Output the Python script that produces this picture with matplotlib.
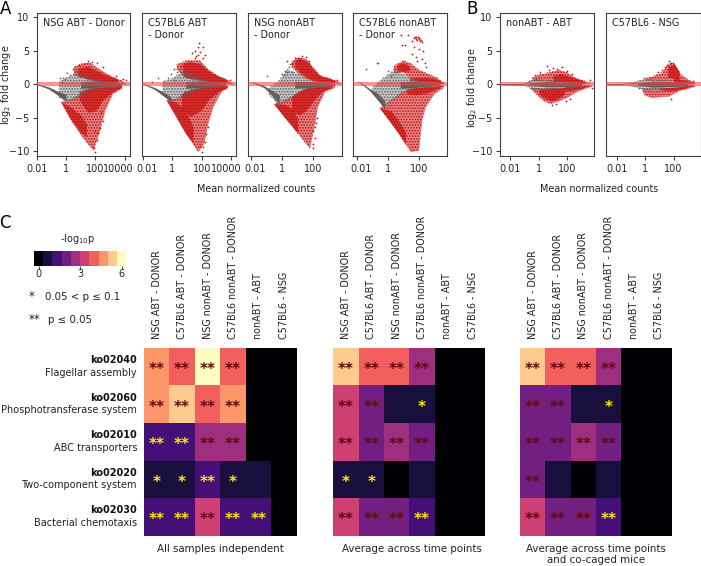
import matplotlib
matplotlib.use("Agg")
import matplotlib.pyplot as plt
from matplotlib.colors import BoundaryNorm
from matplotlib.transforms import ScaledTranslation

W, H = 701, 566
RED = "#c90a0a"
GREY = "#5f5f5f"
EDGE = "#404040"
plt.rcParams["hatch.linewidth"] = 0.8

# MA panels, everything in log10(mean count) vs log2 fold change
# up_* / low_* = outline of the sparse red cloud, dense*_ = outline of its packed parts
# grey_* = outline of the n.s. cloud, band_* = its packed middle, diag_* = n.s. low count arm
a1_up_x = [0.5, 1.0, 1.6, 2.4, 3.2, 3.8, 4.1]
a1_up_hi = [2.6, 3.1, 3.3, 2.1, 1.1, 0.6, 0.1]
a1_up_lo = [1.4, 1.1, 0.8, 0.4, 0.3, 0.2, 0.0]
a1_low_x = [-0.36, 0.5, 1.2, 1.86, 2.3, 2.66, 3.2, 3.8]
a1_low_hi = [-2.6, -2.0, -1.0, -0.5, -0.4, -0.3, -0.3, -0.2]
a1_low_lo = [-2.7, -6.0, -8.2, -9.9, -6.9, -3.9, -1.4, -0.6]
a1_dense1_x = [0.8, 1.5, 2.5, 3.5]
a1_dense1_hi = [2.4, 2.7, 1.6, 0.8]
a1_dense1_lo = [1.2, 0.7, 0.3, 0.2]
a1_dense2_x = [-0.3, 0.3, 1.0, 1.4]
a1_dense2_hi = [-2.7, -3.4, -4.6, -6.0]
a1_dense2_lo = [-2.8, -5.2, -7.2, -7.9]
a1_dense3_x = [0.9, 1.5, 2.0, 2.5, 3.2, 3.8]
a1_dense3_hi = [-1.0, -0.6, -0.5, -0.4, -0.3, -0.2]
a1_dense3_lo = [-2.4, -4.2, -4.0, -2.4, -1.1, -0.5]
a1_grey_x = [-0.5, 0.0, 0.7, 1.5, 2.5, 3.5, 4.0]
a1_grey_hi = [0.4, 1.0, 1.7, 1.0, 0.5, 0.3, 0.1]
a1_grey_lo = [-2.0, -2.5, -2.2, -1.0, -0.5, -0.3, -0.1]
a1_band_x = [1.0, 2.0, 3.0, 3.8]
a1_band_hi = [0.4, 0.5, 0.3, 0.1]
a1_band_lo = [-0.6, -0.5, -0.3, -0.1]
a1_diag_x = [-2.0, -1.2, -0.6, 0.0]
a1_diag_hi = [0.05, -0.4, -1.0, -1.5]
a1_diag_lo = [-0.05, -0.7, -1.6, -2.5]
a1_pts_x = [0.9, 1.2, 1.5, 1.8, 2.1, 2.5, 1.9, 2.0, 2.1, 2.2, 2.3, 2.5, 2.4, 2.0, 3.4, 3.9, 4.1]
a1_pts_y = [2.9, 3.0, 3.4, 3.3, 3.1, 2.5, -9.6, -10.1, -8.4, -7.3, -6.6, -5.5, -4.2, -7.0, 1.2, 0.8, 0.7]
a1_gpts_x = [-0.4, -0.1, 0.1, -0.3, 0.5, 0.7, 0.3, -0.2]
a1_gpts_y = [0.9, 0.8, 1.6, 0.3, 2.2, 1.9, 1.3, 1.0]

a2_up_x = [0.27, 0.94, 1.84, 2.4, 3.08, 3.64, 4.1]
a2_up_hi = [3.0, 3.6, 3.6, 2.3, 1.3, 0.8, 0.1]
a2_up_lo = [2.2, 0.9, 0.7, 0.4, 0.3, 0.2, 0.0]
a2_low_x = [-0.4, 0.4, 0.85, 1.73, 2.13, 2.4, 2.74, 3.3, 3.75]
a2_low_hi = [-2.3, -2.0, -1.0, -0.6, -0.4, -0.3, -0.3, -0.2, -0.2]
a2_low_lo = [-2.4, -5.4, -7.2, -10.1, -8.9, -5.9, -3.4, -1.1, -0.5]
a2_dense1_x = [0.7, 1.2, 1.9, 2.5, 3.2, 3.7]
a2_dense1_hi = [3.1, 3.4, 3.0, 1.9, 1.1, 0.7]
a2_dense1_lo = [1.2, 0.8, 0.6, 0.4, 0.3, 0.2]
a2_dense2_x = [-0.4, 0.2, 0.9, 1.4]
a2_dense2_hi = [-2.4, -2.6, -4.0, -6.4]
a2_dense2_lo = [-2.5, -4.8, -7.4, -8.8]
a2_dense3_x = [0.6, 1.2, 1.9, 2.5, 3.2, 3.7]
a2_dense3_hi = [-1.4, -0.8, -0.5, -0.3, -0.2, -0.2]
a2_dense3_lo = [-3.5, -4.8, -4.0, -2.2, -1.0, -0.5]
a2_grey_x = [-0.7, 0.0, 0.7, 1.5, 2.5, 3.3, 3.8]
a2_grey_hi = [0.3, 1.0, 2.0, 1.2, 0.5, 0.3, 0.1]
a2_grey_lo = [-1.2, -2.5, -2.0, -1.0, -0.5, -0.3, -0.1]
a2_band_x = [0.9, 2.0, 3.0, 3.6]
a2_band_hi = [0.4, 0.5, 0.3, 0.1]
a2_band_lo = [-0.6, -0.5, -0.3, -0.1]
a2_diag_x = [-2.0, -1.2, -0.6, -0.1]
a2_diag_hi = [0.1, -0.5, -1.2, -1.9]
a2_diag_lo = [0.0, -0.8, -1.8, -2.6]
a2_pts_x = [1.3, 1.5, 1.6, 1.7, 1.8, 1.9, 2.1, 2.2, 1.7, 2.1, 1.5, 0.55, 2.0, 1.9, 2.1, 2.2, 2.25, 2.4, 0.1, 3.9]
a2_pts_y = [4.6, 5.0, 4.2, 5.6, 6.1, 4.8, 5.6, 4.4, 4.4, 3.9, 3.9, 2.7, -10.2, -9.3, -9.4, -8.6, -7.5, -6.4, 2.2, 0.7]
a2_gpts_x = [-1.4, -1.0, -0.6, -0.3, 0.1, 0.3, 0.5, -0.1]
a2_gpts_y = [0.3, 0.9, 0.5, 1.0, 0.7, 1.8, 2.2, 1.5]

a3_up_x = [0.58, 1.0, 1.54, 1.98, 2.4, 3.16, 3.5, 3.7]
a3_up_hi = [3.4, 4.1, 3.8, 2.6, 1.4, 0.8, 0.5, 0.1]
a3_up_lo = [2.6, 1.6, 0.8, 0.5, 0.4, 0.3, 0.2, 0.0]
a3_low_x = [-0.54, 0.15, 0.58, 1.1, 1.76, 2.09, 2.26, 2.73, 3.38]
a3_low_hi = [-2.9, -2.3, -1.8, -1.0, -0.5, -0.4, -0.3, -0.3, -0.2]
a3_low_lo = [-3.0, -5.0, -6.2, -7.7, -9.6, -5.9, -3.4, -1.1, -0.5]
a3_dense1_x = [0.8, 1.1, 1.6, 2.0, 2.5, 3.1, 3.5]
a3_dense1_hi = [3.6, 3.9, 3.4, 2.2, 1.2, 0.9, 0.4]
a3_dense1_lo = [2.6, 1.8, 1.0, 0.5, 0.4, 0.3, 0.2]
a3_dense2_x = [-0.54, 0.15, 0.6, 1.0]
a3_dense2_hi = [-2.9, -3.0, -3.6, -5.2]
a3_dense2_lo = [-3.0, -5.0, -6.2, -7.4]
a3_dense3_x = [0.6, 1.1, 1.5, 2.0, 2.6, 3.2]
a3_dense3_hi = [-1.8, -1.0, -0.6, -0.4, -0.3, -0.2]
a3_dense3_lo = [-4.0, -4.6, -4.0, -2.5, -1.0, -0.5]
a3_grey_x = [-0.9, -0.3, 0.3, 1.0, 1.8, 2.6, 3.4]
a3_grey_hi = [-0.5, 0.4, 2.3, 1.6, 0.6, 0.4, 0.1]
a3_grey_lo = [-1.5, -3.0, -2.6, -1.2, -0.6, -0.4, -0.1]
a3_band_x = [0.8, 1.8, 2.6, 3.4]
a3_band_hi = [0.4, 0.4, 0.3, 0.1]
a3_band_lo = [-0.6, -0.5, -0.3, -0.1]
a3_diag_x = [-2.0, -1.2, -0.7, -0.2]
a3_diag_hi = [0.4, -0.2, -0.9, -1.6]
a3_diag_lo = [0.3, -0.5, -1.6, -3.0]
a3_pts_x = [0.3, 0.6, 0.8, 0.6, 1.3, 1.5, 1.7, 1.95, 2.0, 2.1, 2.0, 2.1, 2.2, 2.25, 3.5]
a3_pts_y = [3.5, 3.0, 3.9, 3.1, 4.2, 4.0, 3.4, -9.6, -8.9, -8.0, -7.0, -6.4, -5.8, -5.0, 0.7]
a3_gpts_x = [-1.0, 0.0, 0.1, 0.2, 0.3, 0.4, 0.5, 0.6]
a3_gpts_y = [1.2, 1.5, 1.3, 2.0, 1.8, 2.6, 3.0, 1.8]

a4_up_x = [0.37, 1.0, 1.46, 2.0, 2.6, 3.2, 3.6]
a4_up_hi = [2.8, 3.6, 3.2, 2.2, 1.6, 1.0, 0.2]
a4_up_lo = [1.7, 1.8, 0.9, 0.5, 0.4, 0.3, 0.0]
a4_low_x = [-0.53, 0.37, 1.0, 1.46, 2.0, 2.2, 2.43, 3.0, 3.6]
a4_low_hi = [-3.5, -2.0, -1.0, -0.7, -0.5, -0.4, -0.3, -0.3, -0.2]
a4_low_lo = [-3.6, -6.3, -8.4, -10.1, -9.9, -5.4, -3.4, -1.4, -0.5]
a4_dense1_x = [0.6, 1.0, 1.4]
a4_dense1_hi = [2.9, 3.2, 2.7]
a4_dense1_lo = [2.0, 1.9, 2.0]
a4_dense2_x = [-0.5, 0.2, 0.7, 1.15]
a4_dense2_hi = [-3.5, -4.0, -5.4, -7.2]
a4_dense2_lo = [-3.6, -5.8, -7.4, -9.0]
a4_dense3_x = [1.4, 1.9, 2.5, 3.1, 3.6]
a4_dense3_hi = [1.0, 1.0, 1.0, 0.8, 0.3]
a4_dense3_lo = [0.5, 0.4, 0.3, 0.2, 0.1]
a4_dense4_x = [1.2, 1.8, 2.4, 3.0, 3.5]
a4_dense4_hi = [-0.7, -0.5, -0.4, -0.3, -0.1]
a4_dense4_lo = [-1.4, -1.6, -1.4, -0.9, -0.3]
a4_grey_x = [-1.0, -0.3, 0.3, 1.0, 1.8, 2.6, 3.4]
a4_grey_hi = [-0.4, 1.0, 2.0, 1.6, 0.6, 0.4, 0.1]
a4_grey_lo = [-1.4, -3.3, -2.4, -1.2, -0.6, -0.4, -0.1]
a4_band_x = [0.8, 1.8, 2.6, 3.4]
a4_band_hi = [0.4, 0.4, 0.3, 0.1]
a4_band_lo = [-0.6, -0.5, -0.3, -0.1]
a4_diag_x = [-1.9, -1.2, -0.7, -0.2]
a4_diag_hi = [0.5, -0.6, -1.3, -2.4]
a4_diag_lo = [0.4, -0.9, -2.2, -3.7]
a4_pts_x = [1.6, 1.7, 1.75, 1.8, 1.85, 1.9, 1.95, 2.0, 2.05, 2.1, 2.15, 2.2, 1.7, 2.0, 1.3, 1.1, 1.55, 2.3, 1.8, 2.2, 1.9, 2.4, 2.5, 0.85, 0.9]
a4_pts_y = [6.4, 6.9, 7.1, 6.8, 7.0, 6.6, 7.0, 6.7, 6.9, 6.5, 6.6, 6.3, 5.5, 5.2, 7.4, 5.9, 4.5, 5.0, 4.0, 3.8, 3.5, 3.2, 2.6, 7.3, 5.8]
a4_gpts_x = [-1.4, -0.7, -0.6, 0.0, 0.2, 0.4, 0.6]
a4_gpts_y = [2.2, 3.2, 3.1, 1.9, 1.2, 2.3, 1.8]

b1_up_x = [-0.5, 0.0, 0.45, 1.03, 1.39, 1.97, 2.56, 3.15, 3.6]
b1_up_hi = [1.0, 1.5, 1.7, 2.0, 2.2, 1.8, 1.0, 0.6, 0.2]
b1_up_lo = [0.5, 0.5, 0.5, 0.4, 0.4, 0.3, 0.3, 0.2, 0.1]
b1_low_x = [-0.6, -0.14, 0.33, 0.8, 1.39, 1.97, 2.56, 3.15, 3.7]
b1_low_hi = [-0.4, -0.5, -0.6, -0.5, -0.5, -0.4, -0.3, -0.2, -0.1]
b1_low_lo = [-0.6, -1.6, -2.5, -2.9, -2.5, -2.0, -1.2, -0.7, -0.3]
b1_dense1_x = [1.0, 1.5, 2.1, 2.7, 3.2]
b1_dense1_hi = [1.3, 1.6, 1.2, 0.8, 0.4]
b1_dense1_lo = [0.4, 0.4, 0.3, 0.2, 0.1]
b1_dense2_x = [0.0, 0.4, 0.9, 1.4, 1.8]
b1_dense2_hi = [-0.8, -0.7, -0.6, -0.6, -0.5]
b1_dense2_lo = [-1.5, -2.1, -2.5, -2.1, -1.5]
b1_dense3_x = [1.8, 2.4, 3.0, 3.5]
b1_dense3_hi = [-0.3, -0.3, -0.2, -0.1]
b1_dense3_lo = [-1.0, -0.9, -0.6, -0.3]
b1_grey_x = [-1.0, -0.5, 0.0, 1.0, 2.0, 2.8, 3.3]
b1_grey_hi = [0.2, 0.7, 0.8, 0.6, 0.5, 0.3, 0.1]
b1_grey_lo = [-0.2, -0.8, -0.9, -0.7, -0.5, -0.3, -0.1]
b1_band_x = [-0.7, 0.5, 1.5, 2.5, 3.0]
b1_band_hi = [0.1, 0.4, 0.3, 0.2, 0.1]
b1_band_lo = [-0.1, -0.4, -0.4, -0.3, -0.1]
b1_diag_x = [-2.7, -1.0]
b1_diag_hi = [0.08, 0.12]
b1_diag_lo = [-0.08, -0.12]
b1_pts_x = [0.55, -0.3, 0.1, 0.75, 1.0, 1.3, 1.6, 2.0, 2.3, 3.6, 3.75, 0.9, 1.2, 1.9, 2.2]
b1_pts_y = [2.7, 1.4, 1.8, 2.1, 2.4, 2.3, 2.5, 2.0, 1.5, 0.7, -0.6, -3.1, -3.0, -2.5, -2.2]
b1_gpts_x = [-0.7, -0.4, -0.2]
b1_gpts_y = [0.5, -0.7, 0.8]

b2_up_x = [0.0, 0.5, 1.18, 1.7, 2.1, 2.5, 3.06, 3.5]
b2_up_hi = [0.9, 1.2, 1.8, 3.2, 3.0, 1.5, 0.7, 0.2]
b2_up_lo = [0.6, 0.6, 0.5, 0.5, 0.4, 0.3, 0.2, 0.1]
b2_low_x = [-0.2, 0.0, 0.47, 0.94, 1.65, 2.35, 3.06, 3.5]
b2_low_hi = [-0.5, -0.6, -0.6, -0.6, -0.5, -0.4, -0.2, -0.1]
b2_low_lo = [-1.0, -1.7, -2.0, -1.9, -1.8, -1.0, -0.6, -0.3]
b2_dense1_x = [1.6, 1.8, 2.1, 2.4]
b2_dense1_hi = [2.2, 2.9, 2.8, 1.7]
b2_dense1_lo = [1.0, 1.0, 0.8, 0.6]
b2_dense2_x = [2.0, 2.5, 3.0, 3.5]
b2_dense2_hi = [0.8, 0.7, 0.5, 0.2]
b2_dense2_lo = [0.3, 0.2, 0.2, 0.1]
b2_dense3_x = [1.0, 1.6, 2.2, 2.8, 3.4]
b2_dense3_hi = [-0.5, -0.5, -0.4, -0.2, -0.1]
b2_dense3_lo = [-0.8, -1.0, -0.9, -0.6, -0.2]
b2_grey_x = [-1.5, -0.6, 0.0, 1.0, 2.0, 2.8, 3.3]
b2_grey_hi = [0.1, 0.5, 0.9, 0.7, 0.5, 0.3, 0.1]
b2_grey_lo = [-0.1, -0.5, -0.9, -0.7, -0.5, -0.3, -0.1]
b2_band_x = [-0.5, 0.5, 1.5, 2.5, 3.0]
b2_band_hi = [0.15, 0.45, 0.4, 0.2, 0.1]
b2_band_lo = [-0.15, -0.45, -0.4, -0.3, -0.1]
b2_diag_x = [-2.7, -1.5]
b2_diag_hi = [0.08, 0.1]
b2_diag_lo = [-0.08, -0.1]
b2_pts_x = [1.2, 1.4, 1.55, 1.65, 1.7, 1.85, 1.95, 2.05, 2.2, 2.35, 0.9, 3.4, 1.85]
b2_pts_y = [2.1, 2.6, 2.9, 3.5, 2.6, 3.2, 3.1, 2.9, 2.4, 1.9, 1.8, 0.5, -2.2]
b2_gpts_x = [-0.4, -0.1, 0.2]
b2_gpts_y = [-0.6, 1.0, -1.0]

a_panels = ["NSG ABT - Donor", "C57BL6 ABT\n- Donor", "NSG nonABT\n- Donor", "C57BL6 nonABT\n- Donor"]
b_panels = ["nonABT - ABT", "C57BL6 - NSG"]
x_ticks_long = [-2, 0, 2, 4]
x_ticks_short = [-2, 0, 2]
x_tick_labels = ["0.01", "1", "100", "10000"]
y_ticks = [-10, -5, 0, 5, 10]

# heatmap part: -log10 p per pathway (rows) and contrast (columns)
pathways = ["ko02040", "ko02060", "ko02010", "ko02020", "ko02030"]
pathway_names = ["Flagellar assembly", "Phosphotransferase system", "ABC transporters",
                 "Two-component system", "Bacterial chemotaxis"]
contrasts = ["NSG ABT - DONOR", "C57BL6 ABT - DONOR", "NSG nonABT - DONOR",
             "C57BL6 nonABT - DONOR", "nonABT - ABT", "C57BL6 - NSG"]
heat_all = [[4.67, 4.0, 6.0, 4.0, 0, 0],
            [4.67, 5.33, 4.0, 4.67, 0, 0],
            [1.33, 1.33, 2.67, 2.67, 0, 0],
            [0.67, 0.67, 1.33, 0.67, 0.67, 0],
            [1.33, 1.33, 3.33, 1.33, 1.33, 0]]
heat_avg = [[5.33, 4.0, 4.0, 2.67, 0, 0],
            [3.33, 2.0, 0.67, 0.67, 0, 0],
            [3.33, 2.0, 2.67, 2.0, 0, 0],
            [0.67, 0.67, 0, 0.67, 0, 0],
            [3.33, 2.0, 2.0, 1.33, 0, 0]]
heat_cocaged = [[5.33, 4.0, 4.0, 2.67, 0, 0],
                [2.0, 2.0, 0.67, 0.67, 0, 0],
                [2.0, 2.0, 2.67, 2.0, 0, 0],
                [2.0, 0.67, 0, 0.67, 0, 0],
                [3.33, 2.0, 2.0, 1.33, 0, 0]]
stars_all = [["**", "**", "**", "**", "", ""],
             ["**", "**", "**", "**", "", ""],
             ["**", "**", "**", "**", "", ""],
             ["*", "*", "**", "*", "", ""],
             ["**", "**", "**", "**", "**", ""]]
stars_avg = [["**", "**", "**", "**", "", ""],
             ["**", "**", "", "*", "", ""],
             ["**", "**", "**", "**", "", ""],
             ["*", "*", "", "", "", ""],
             ["**", "**", "**", "**", "", ""]]
stars_cocaged = [["**", "**", "**", "**", "", ""],
                 ["**", "**", "", "*", "", ""],
                 ["**", "**", "**", "**", "", ""],
                 ["**", "", "", "", "", ""],
                 ["**", "**", "**", "**", "", ""]]
scale_values = [0, 0.67, 1.33, 2.0, 2.67, 3.33, 4.0, 4.67, 5.33, 6.0]

fig = plt.figure(figsize=(W / 100, H / 100), dpi=100)


def box(x0, y0, x1, y1):
    # pixel box of the reference to figure fractions
    return [x0 / W, 1 - y1 / H, (x1 - x0) / W, (y1 - y0) / H]


def label(x, y, s, **kw):
    kw.setdefault("ha", "center")
    kw.setdefault("va", "center")
    kw.setdefault("fontsize", 6.9)
    kw.setdefault("color", "#222222")
    fig.text(x / W, 1 - y / H, s, **kw)


def sparse(ax, shape, col, z, wash):
    # the loose part of a point cloud: a pale wash and a dot hatch
    ax.fill_between(shape[0], shape[2], shape[1], color=col, alpha=wash, lw=0, zorder=z)
    ax.fill_between(shape[0], shape[2], shape[1], facecolor="none", edgecolor=col, hatch="......", lw=0, zorder=z)


def ma_panel(pos, xlim, ticks, title, up, low, dense, grey, band, diag, pts, gpts, shift=()):
    ax = fig.add_axes(box(*pos))
    sparse(ax, up, RED, 2, 0.5)
    sparse(ax, low, RED, 2, 0.5)
    for d in dense:
        ax.fill_between(d[0], d[2], d[1], color=RED, alpha=0.7, lw=0, zorder=2.5)
    sparse(ax, grey, GREY, 3, 0.35)
    ax.fill_between(band[0], band[2], band[1], color=GREY, lw=0, zorder=3.5)
    ax.fill_between(diag[0], diag[2], diag[1], color=GREY, lw=0, zorder=3.5)
    ax.scatter(pts[0], pts[1], s=1.6, color=RED, lw=0, zorder=4)
    ax.scatter(gpts[0], gpts[1], s=1.6, color=GREY, lw=0, zorder=4)
    ax.axhline(0, color="#f04040", alpha=0.55, lw=3.0, zorder=5)
    ax.set_xlim(xlim)
    ax.set_ylim(-10.75, 10.7)
    ax.set_xticks(ticks)
    ax.set_xticklabels(x_tick_labels[:len(ticks)])
    ax.set_yticks(y_ticks)
    ylab = pos[0] in (36.7, 500)
    ax.tick_params(labelsize=6.9, length=3, width=0.8, pad=2.5, color=EDGE, labelcolor="#222222", left=ylab, labelleft=ylab)
    # the outer tick labels sit off their ticks in the reference so they do not collide
    for t, dx in zip(ax.get_xticklabels(), shift):
        t.set_transform(t.get_transform() + ScaledTranslation(dx / 100, 0, fig.dpi_scale_trans))
    for s in ax.spines.values():
        s.set_color(EDGE)
        s.set_linewidth(0.8)
    ax.text(0.065, 0.965, title, transform=ax.transAxes, fontsize=6.9, va="top", ha="left",
            color="#222222", linespacing=1.3)
    return ax


ma_panel((36.7, 12.7, 130.3, 156), (-2, 4.39), x_ticks_long, a_panels[0],
         (a1_up_x, a1_up_hi, a1_up_lo), (a1_low_x, a1_low_hi, a1_low_lo),
         [(a1_dense1_x, a1_dense1_hi, a1_dense1_lo), (a1_dense2_x, a1_dense2_hi, a1_dense2_lo), (a1_dense3_x, a1_dense3_hi, a1_dense3_lo)],
         (a1_grey_x, a1_grey_hi, a1_grey_lo), (a1_band_x, a1_band_hi, a1_band_lo),
         (a1_diag_x, a1_diag_hi, a1_diag_lo), (a1_pts_x, a1_pts_y), (a1_gpts_x, a1_gpts_y), shift=(0, 0, 0, -6.5))
ma_panel((141.5, 12.7, 236.3, 156), (-2.1, 4.33), x_ticks_long, a_panels[1],
         (a2_up_x, a2_up_hi, a2_up_lo), (a2_low_x, a2_low_hi, a2_low_lo),
         [(a2_dense1_x, a2_dense1_hi, a2_dense1_lo), (a2_dense2_x, a2_dense2_hi, a2_dense2_lo), (a2_dense3_x, a2_dense3_hi, a2_dense3_lo)],
         (a2_grey_x, a2_grey_hi, a2_grey_lo), (a2_band_x, a2_band_hi, a2_band_lo),
         (a2_diag_x, a2_diag_hi, a2_diag_lo), (a2_pts_x, a2_pts_y), (a2_gpts_x, a2_gpts_y), shift=(4, 0, 0, -5))
ma_panel((247.5, 12.7, 342, 156), (-2.25, 3.85), x_ticks_short, a_panels[2],
         (a3_up_x, a3_up_hi, a3_up_lo), (a3_low_x, a3_low_hi, a3_low_lo),
         [(a3_dense1_x, a3_dense1_hi, a3_dense1_lo), (a3_dense2_x, a3_dense2_hi, a3_dense2_lo), (a3_dense3_x, a3_dense3_hi, a3_dense3_lo)],
         (a3_grey_x, a3_grey_hi, a3_grey_lo), (a3_band_x, a3_band_hi, a3_band_lo),
         (a3_diag_x, a3_diag_hi, a3_diag_lo), (a3_pts_x, a3_pts_y), (a3_gpts_x, a3_gpts_y), shift=(4, 0, 0))
ma_panel((353.3, 12.7, 447.3, 156), (-2.22, 3.85), x_ticks_short, a_panels[3],
         (a4_up_x, a4_up_hi, a4_up_lo), (a4_low_x, a4_low_hi, a4_low_lo),
         [(a4_dense1_x, a4_dense1_hi, a4_dense1_lo), (a4_dense2_x, a4_dense2_hi, a4_dense2_lo), (a4_dense3_x, a4_dense3_hi, a4_dense3_lo), (a4_dense4_x, a4_dense4_hi, a4_dense4_lo)],
         (a4_grey_x, a4_grey_hi, a4_grey_lo), (a4_band_x, a4_band_hi, a4_band_lo),
         (a4_diag_x, a4_diag_hi, a4_diag_lo), (a4_pts_x, a4_pts_y), (a4_gpts_x, a4_gpts_y), shift=(4, 0, 0))
ma_panel((500, 12.7, 594.3, 156), (-2.73, 3.9), x_ticks_short, b_panels[0],
         (b1_up_x, b1_up_hi, b1_up_lo), (b1_low_x, b1_low_hi, b1_low_lo),
         [(b1_dense1_x, b1_dense1_hi, b1_dense1_lo), (b1_dense2_x, b1_dense2_hi, b1_dense2_lo), (b1_dense3_x, b1_dense3_hi, b1_dense3_lo)],
         (b1_grey_x, b1_grey_hi, b1_grey_lo), (b1_band_x, b1_band_hi, b1_band_lo),
         (b1_diag_x, b1_diag_hi, b1_diag_lo), (b1_pts_x, b1_pts_y), (b1_gpts_x, b1_gpts_y))
ma_panel((606.3, 12.7, 700.5, 156), (-2.73, 3.9), x_ticks_short, b_panels[1],
         (b2_up_x, b2_up_hi, b2_up_lo), (b2_low_x, b2_low_hi, b2_low_lo),
         [(b2_dense1_x, b2_dense1_hi, b2_dense1_lo), (b2_dense2_x, b2_dense2_hi, b2_dense2_lo), (b2_dense3_x, b2_dense3_hi, b2_dense3_lo)],
         (b2_grey_x, b2_grey_hi, b2_grey_lo), (b2_band_x, b2_band_hi, b2_band_lo),
         (b2_diag_x, b2_diag_hi, b2_diag_lo), (b2_pts_x, b2_pts_y), (b2_gpts_x, b2_gpts_y))

label(255.7, 188.7, "Mean normalized counts")
label(599.3, 188.7, "Mean normalized counts")
label(6, 85, "log$_2$ fold change", rotation=90)
label(472, 88, "log$_2$ fold change", rotation=90)
label(6, 9, "A", fontsize=12, color="black")
label(472, 9, "B", fontsize=12, color="black")
label(5, 223, "C", fontsize=12, color="black")

# heatmaps
cmap = plt.get_cmap("magma", 10)
norm = BoundaryNorm([-0.33 + 0.667 * i for i in range(11)], 10)


def heat_panel(x0, x1, values, stars, rows=False):
    ax = fig.add_axes(box(x0, 347.7, x1, 535.7))
    ax.pcolormesh(values, cmap=cmap, norm=norm)
    ax.invert_yaxis()
    ax.xaxis.tick_top()
    ax.set_xticks([i + 0.5 for i in range(6)])
    ax.set_xticklabels(contrasts, rotation=90, fontsize=6.9, color="#222222")
    ax.set_yticks([])
    ax.tick_params(length=0, pad=6.5)
    for s in ax.spines.values():
        s.set_visible(False)
    for r, row in enumerate(stars):
        for c, s in enumerate(row):
            col = "#ffee00" if values[r][c] < 1.5 else "#600812"
            ax.text(c + 0.5, r + 0.58, s, ha="center", va="center", fontsize=11, fontweight="bold", color=col)
    if rows:
        for r in range(5):
            y = 366.5 + r * 37.6
            label(137, y - 6.5, pathways[r], ha="right", fontsize=7, fontweight="bold", color="#111111")
            label(137, y + 6, pathway_names[r], ha="right", fontsize=7)


heat_panel(144, 296.5, heat_all, stars_all, rows=True)
heat_panel(333.3, 485.3, heat_avg, stars_avg)
heat_panel(520, 672, heat_cocaged, stars_cocaged)

label(220, 549, "All samples independent", fontsize=7.35)
label(411.7, 549, "Average across time points", fontsize=7.35)
label(595.7, 554.5, "Average across time points\nand co-caged mice", fontsize=7.35, linespacing=1.1)

# colour scale and star legend
cax = fig.add_axes(box(34, 250.7, 126.2, 266))
cax.pcolormesh([scale_values], cmap=cmap, norm=norm)
cax.set_xticks([0.5, 5.0, 9.5])
cax.set_xticklabels(["0", "3", "6"], fontsize=6.9, color="#222222")
cax.set_yticks([])
cax.tick_params(length=2, width=0.6, pad=0.5, color="#222222")
for s in cax.spines.values():
    s.set_visible(False)
label(78, 238.7, "-log$_{10}$p", fontsize=7)
label(32, 296, "*", fontsize=8.5)
label(45, 296.7, "0.05 < p ≤ 0.1", ha="left", fontsize=7.4)
label(35, 320, "**", fontsize=8.5)
label(47.7, 320.3, "p ≤ 0.05", ha="left", fontsize=7.4)

fig.savefig("out.png", dpi=100)
